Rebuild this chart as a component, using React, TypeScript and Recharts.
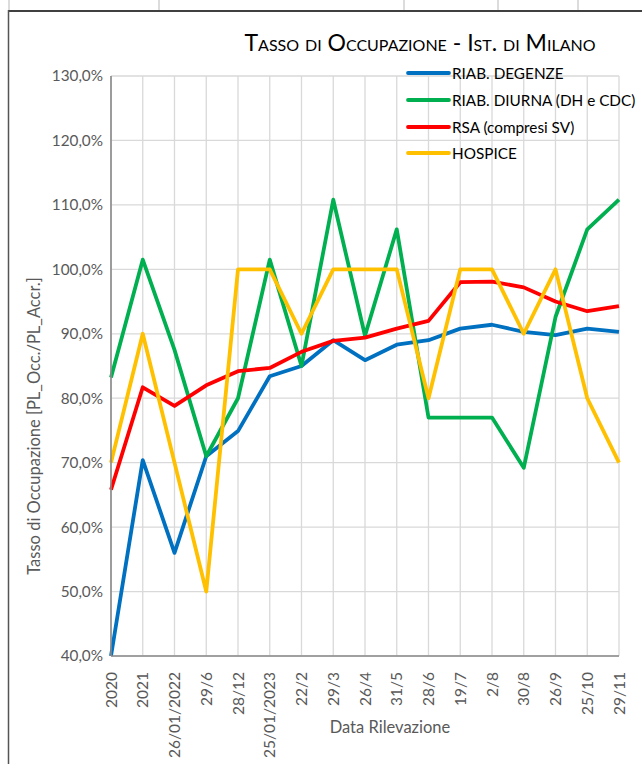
import React from 'react';
import { LineChart, Line, XAxis, YAxis, CartesianGrid, Legend } from 'recharts';

// survey dates (x axis)
const categories = [
  '2020', '2021', '26/01/2022', '29/6', '28/12', '25/01/2023', '22/2', '29/3', '26/4',
  '31/5', '28/6', '19/7', '2/8', '30/8', '26/9', '25/10', '29/11',
];

// occupancy rates, %
const riabDegenze = [40.0, 70.4, 56.0, 71.0, 74.9, 83.4, 85.0, 89.0, 85.9, 88.3, 89.0, 90.8, 91.4, 90.3, 89.8, 90.8, 90.3];
const riabDiurna = [83.2, 101.5, 87.5, 71.0, 80.0, 101.5, 85.0, 110.8, 89.7, 106.2, 77.0, 77.0, 77.0, 69.2, 92.6, 106.2, 110.8];
const rsa = [65.8, 81.7, 78.8, 82.0, 84.2, 84.7, 87.2, 88.9, 89.4, 90.8, 92.0, 98.0, 98.1, 97.2, 95.0, 93.5, 94.3];
const hospice = [70, 90, 70, 50, 100, 100, 90, 100, 100, 100, 80, 100, 100, 90, 100, 80, 70];

const yTicks = [40, 50, 60, 70, 80, 90, 100, 110, 120, 130];

const series = [
  { key: 'degenze', name: 'RIAB. DEGENZE', color: '#0070C0' },
  { key: 'diurna', name: 'RIAB. DIURNA (DH e CDC)', color: '#00B050' },
  { key: 'rsa', name: 'RSA (compresi SV)', color: '#FF0000' },
  { key: 'hospice', name: 'HOSPICE', color: '#FFC000' },
];

const data = categories.map((date, i) => ({
  date,
  degenze: riabDegenze[i],
  diurna: riabDiurna[i],
  rsa: rsa[i],
  hospice: hospice[i],
}));

const FONT = 'Lato, "Open Sans", sans-serif';
const GREY_TEXT = '#595959';

const fmtPct = (v: number) => v.toFixed(1).replace('.', ',') + '%';

// rotated category labels, reading bottom to top
const XTick = (props: any) => {
  const { x, y, payload } = props;
  const ty = y + 8;
  return (
    <text
      x={x}
      y={ty}
      transform={`rotate(-90, ${x}, ${ty})`}
      textAnchor="end"
      dy="0.36em"
      fill={GREY_TEXT}
      fontSize={15.5}
      fontFamily={FONT}
    >
      {payload.value}
    </text>
  );
};

// keep the legend in series order
const LegendBox = () => (
  <div style={{ fontFamily: FONT, fontSize: 15.3, color: '#000' }}>
    {series.map(s => (
      <div key={s.key} style={{ display: 'flex', alignItems: 'center', height: 26.7 }}>
        <svg width={46} height={8} style={{ marginRight: 1 }}>
          <line x1={3} y1={4} x2={44} y2={4} stroke={s.color} strokeWidth={3.8} strokeLinecap="round" />
        </svg>
        <span style={{ whiteSpace: 'nowrap' }}>{s.name}</span>
      </div>
    ))}
  </div>
);

export default function App() {
  return (
    <div style={{ position: 'absolute', left: 0, top: 0, width: 642, height: 764, background: '#fff', overflow: 'hidden' }}>
      <LineChart
        width={642}
        height={764}
        data={data}
        margin={{ top: 76, right: 23, left: 51, bottom: 48 }}
      >
        <CartesianGrid stroke="#d9d9d9" strokeWidth={1.3} />
        <XAxis
          dataKey="date"
          height={60}
          interval={0}
          tickLine={false}
          axisLine={{ stroke: '#8a8a8a', strokeWidth: 1.6 }}
          tick={<XTick />}
        />
        <YAxis
          width={60}
          domain={[40, 130]}
          ticks={yTicks}
          tickFormatter={fmtPct}
          tickLine={false}
          axisLine={{ stroke: '#8a8a8a', strokeWidth: 1.6 }}
          tick={{ fill: GREY_TEXT, fontSize: 15.3, fontFamily: FONT }}
        />
        <Legend
          layout="vertical"
          align="center"
          verticalAlign="middle"
          content={<LegendBox />}
          wrapperStyle={{ top: 60, left: 405, width: 237 }}
        />
        {series.map(s => (
          <Line
            key={s.key}
            type="linear"
            dataKey={s.key}
            name={s.name}
            stroke={s.color}
            strokeWidth={3.8}
            strokeLinejoin="round"
            dot={false}
            activeDot={false}
            isAnimationActive={false}
          />
        ))}
      </LineChart>

      <svg width={642} height={764} style={{ position: 'absolute', left: 0, top: 0, pointerEvents: 'none' }}>
        {/* spreadsheet cell borders */}
        {[9, 159, 404, 498, 578].map(x => (
          <line key={x} x1={x} y1={0} x2={x} y2={10} stroke="#d0d0d0" strokeWidth={1.5} />
        ))}
        <line x1={8} y1={11} x2={642} y2={11} stroke="#404040" strokeWidth={2} />
        <line x1={8.5} y1={10} x2={8.5} y2={764} stroke="#555" strokeWidth={1.5} />

        <text
          x={420}
          y={51}
          textAnchor="middle"
          fontSize={23}
          fontFamily={FONT}
          fill="#000"
          style={{ fontVariant: 'small-caps' }}
        >
          Tasso di Occupazione - Ist. di Milano
        </text>
        <text
          x={34}
          y={426}
          transform="rotate(-90, 34, 426)"
          textAnchor="middle"
          dy="0.36em"
          fontSize={16.5}
          fontFamily={FONT}
          fill={GREY_TEXT}
        >
          Tasso di Occupazione [PL_Occ./PL_Accr.]
        </text>
        <text x={390} y={733} textAnchor="middle" fontSize={16.5} fontFamily={FONT} fill={GREY_TEXT}>
          Data Rilevazione
        </text>
      </svg>
    </div>
  );
}
